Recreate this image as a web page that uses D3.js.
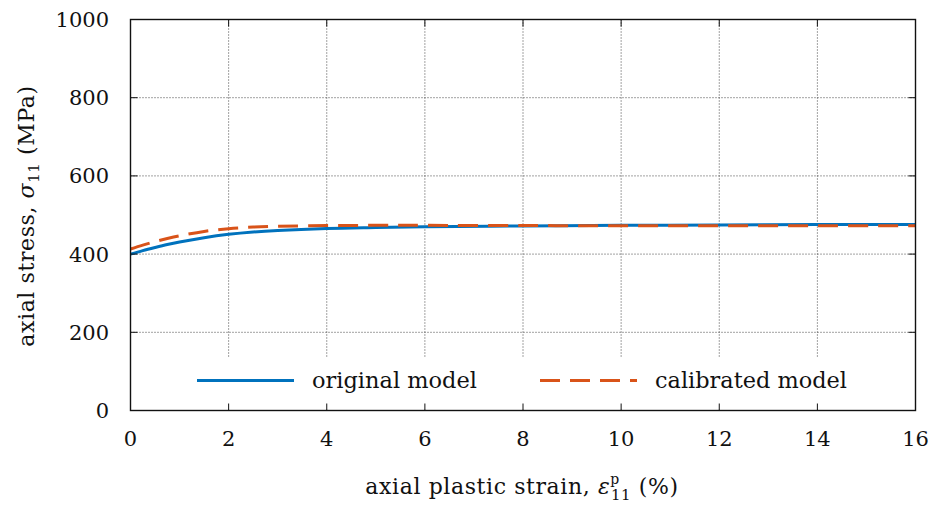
<!DOCTYPE html>
<html>
<head>
<meta charset="utf-8">
<script src="https://cdn.jsdelivr.net/npm/d3@7"></script>
<style>
  body { margin: 0; background: #fff; }
  svg text { font-family: "DejaVu Serif", serif; fill: #111; }
</style>
</head>
<body>
<svg id="chart" width="933" height="507"></svg>
<script>
// values
const strain = [0, 0.25, 0.5, 0.75, 1, 1.5, 2, 2.5, 3, 4, 5, 6, 8, 10, 12, 14, 16];
const originalModel = [400, 409, 417, 424.5, 431, 442, 450.5, 456.5, 460.5, 465.5, 468, 470, 472, 473.5, 474.5, 475.5, 476];
const calibratedModel = [413, 423, 432, 440, 447, 458, 465, 469, 471, 473, 473.5, 473.5, 473, 472.5, 472.5, 472.5, 472.5];
const xTicks = [0, 2, 4, 6, 8, 10, 12, 14, 16];
const yTicks = [0, 200, 400, 600, 800, 1000];
const seriesNames = ["original model", "calibrated model"];

const svg = d3.select('#chart');
const pl = 130.5, pr = 915.5, pt = 19.5, pb = 410.5;
const fs = 21;

const x = d3.scaleLinear().domain([0, 16]).range([pl, pr]);
const y = d3.scaleLinear().domain([0, 1000]).range([pb, pt]);

// grid
const grid = svg.append('g').attr('stroke', '#444').attr('stroke-width', 1)
  .attr('stroke-dasharray', '1,2');
xTicks.slice(1, -1).forEach(t => {
  grid.append('line').attr('x1', x(t)).attr('x2', x(t)).attr('y1', pt).attr('y2', pb);
});
yTicks.slice(1, -1).forEach(t => {
  grid.append('line').attr('x1', pl).attr('x2', pr).attr('y1', y(t)).attr('y2', y(t));
});

// lines
const line = d3.line().x((d, i) => x(strain[i])).y(d => y(d)).curve(d3.curveCatmullRom);
svg.append('path').datum(originalModel).attr('d', line)
  .attr('fill', 'none').attr('stroke', '#0072BD').attr('stroke-width', 3);
svg.append('path').datum(calibratedModel).attr('d', line)
  .attr('fill', 'none').attr('stroke', '#D95319').attr('stroke-width', 3)
  .attr('stroke-dasharray', '20,10');

// legend box (white, hides grid)
svg.append('rect').attr('x', pl + 3).attr('y', 358).attr('width', pr - pl - 6).attr('height', pb - 358 - 1)
  .attr('fill', '#fff');
const legY = 380.5;
svg.append('line').attr('x1', 197).attr('x2', 294).attr('y1', legY).attr('y2', legY)
  .attr('stroke', '#0072BD').attr('stroke-width', 3);
svg.append('text').attr('x', 312).attr('y', legY + 7).attr('font-size', 22)
  .attr('textLength', 165).attr('lengthAdjust', 'spacingAndGlyphs').text(seriesNames[0]);
svg.append('line').attr('x1', 540).attr('x2', 637).attr('y1', legY).attr('y2', legY)
  .attr('stroke', '#D95319').attr('stroke-width', 3).attr('stroke-dasharray', '20,10');
svg.append('text').attr('x', 655).attr('y', legY + 7).attr('font-size', 22)
  .attr('textLength', 192).attr('lengthAdjust', 'spacingAndGlyphs').text(seriesNames[1]);

// ticks on all sides, pointing inward
const tk = svg.append('g').attr('stroke', '#111').attr('stroke-width', 1);
xTicks.forEach(t => {
  tk.append('line').attr('x1', x(t)).attr('x2', x(t)).attr('y1', pb).attr('y2', pb - 7);
  tk.append('line').attr('x1', x(t)).attr('x2', x(t)).attr('y1', pt).attr('y2', pt + 7);
});
yTicks.forEach(t => {
  tk.append('line').attr('x1', pl).attr('x2', pl + 7).attr('y1', y(t)).attr('y2', y(t));
  tk.append('line').attr('x1', pr).attr('x2', pr - 7).attr('y1', y(t)).attr('y2', y(t));
});

// frame
svg.append('rect').attr('x', pl).attr('y', pt).attr('width', pr - pl).attr('height', pb - pt)
  .attr('fill', 'none').attr('stroke', '#111').attr('stroke-width', 1.4);

// tick labels
svg.append('g').selectAll('text').data(xTicks).join('text')
  .attr('x', d => x(d)).attr('y', 446).attr('text-anchor', 'middle').attr('font-size', fs)
  .text(d => d);
svg.append('g').selectAll('text').data(yTicks).join('text')
  .attr('x', 109).attr('y', d => y(d) + 7.5).attr('text-anchor', 'end').attr('font-size', fs)
  .text(d => d);

// axis titles
const xl = svg.append('text').attr('x', 522).attr('y', 494).attr('text-anchor', 'middle')
  .attr('font-size', 22).attr('letter-spacing', 0.6);
xl.append('tspan').text('axial plastic strain, ');
xl.append('tspan').attr('font-style', 'italic').text('ε');
xl.append('tspan').attr('font-size', 14).attr('dy', -10).text('p');
xl.append('tspan').attr('font-size', 15).attr('dx', -9).attr('dy', 16).text('11');
xl.append('tspan').attr('dy', -6).text(' (%)');

const yl = svg.append('text').attr('transform', 'translate(34,216) rotate(-90)')
  .attr('text-anchor', 'middle').attr('font-size', 22).attr('letter-spacing', 0.6);
yl.append('tspan').text('axial stress, ');
yl.append('tspan').attr('font-style', 'italic').text('σ');
yl.append('tspan').attr('font-size', 15).attr('dy', 5).text('11');
yl.append('tspan').attr('dy', -5).text(' (MPa)');
</script>
</body>
</html>
